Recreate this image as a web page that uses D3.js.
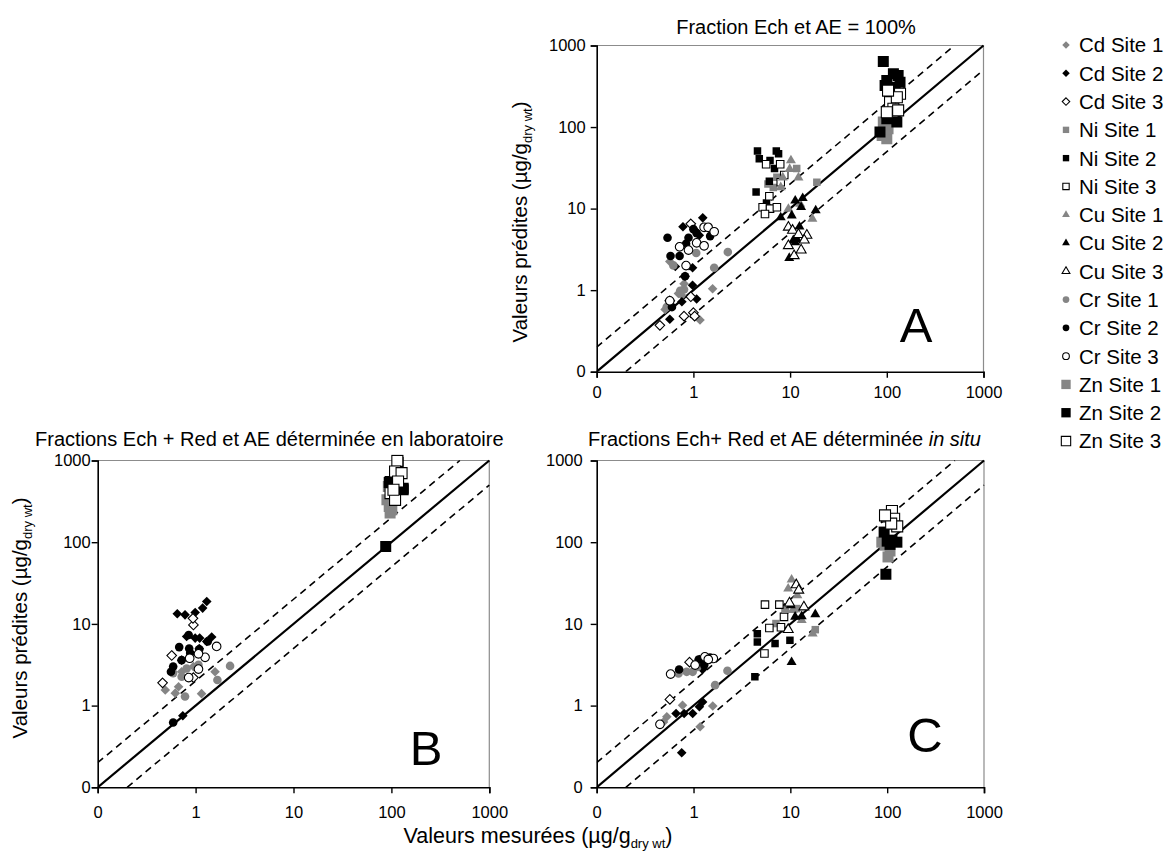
<!DOCTYPE html>
<html>
<head>
<meta charset="utf-8">
<script src="https://cdn.jsdelivr.net/npm/d3@7"></script>
<style>
  body { margin: 0; background: #fff; }
  svg { font-family: "Liberation Sans", Arial, sans-serif; }
</style>
</head>
<body>
<svg id="chart" width="1172" height="855"></svg>
<script>
const seriesNames = ['Cd Site 1', 'Cd Site 2', 'Cd Site 3', 'Ni Site 1', 'Ni Site 2', 'Ni Site 3',
  'Cu Site 1', 'Cu Site 2', 'Cu Site 3', 'Cr Site 1', 'Cr Site 2', 'Cr Site 3',
  'Zn Site 1', 'Zn Site 2', 'Zn Site 3'];
const axisTicks = [0.1, 1, 10, 100, 1000];
const refLineFactors = [1, 2, 0.5];   // 1:1 line and factor-2 limits

// panel A : Fraction Ech et AE = 100%
const panelA = {
  'Cd Site 1': [[1.17,0.43],[1.58,1.04],[0.57,2.25],[0.51,0.58],[0.70,0.91],[0.80,1.2],[0.76,0.86]],
  'Cd Site 2': [[1.25,7.7],[0.78,6.0],[0.65,1.95],[0.98,1.88],[0.82,1.48],[0.98,1.15],[1.08,0.78],[0.57,0.44],[0.76,0.72],[1.04,5.4],[1.15,4.7]],
  'Cd Site 3': [[0.94,6.5],[0.45,0.37],[0.80,0.48],[1.0,0.53],[1.03,0.48],[0.57,0.74],[0.94,0.83]],
  'Ni Site 1': [[18.9,21],[11.7,31],[5.9,20],[7.3,24.2],[6.7,18.2]],
  'Ni Site 2': [[4.6,51],[4.8,41],[6.2,39],[7.2,51],[7.6,47],[6.9,31],[6.1,21.6],[4.45,16],[5.7,11.7],[5.8,10.2]],
  'Ni Site 3': [[5.65,35],[7.9,35],[8.7,25.8],[8.0,21],[6.1,14.2],[5.2,10.4],[6.2,10],[7.3,10.4],[5.5,8.6]],
  'Cu Site 1': [[10.2,39],[12.2,24],[9.9,30.5],[8.4,24],[8.0,18.2],[9.6,9.9],[17,7.5],[12.7,11.4]],
  'Cu Site 2': [[13.5,13.4],[11.3,12.5],[13,10.4],[18.4,9.5],[8.0,7.8],[10.4,8.2],[12.5,6.0],[10.8,4.1],[9.8,2.47],[11.3,3.86],[11.8,4.2]],
  'Cu Site 3': [[9.6,5.9],[10.6,5.4],[12.2,4.8],[14.9,4.7],[14,4.1],[9.6,3.5],[11,2.64],[13,3.1]],
  'Cr Site 1': [[2.27,2.93],[1.64,1.88],[1.07,2.85],[0.62,2.01],[0.80,1.02],[0.73,0.98],[0.53,0.62]],
  'Cr Site 2': [[0.54,4.4],[0.72,3.4],[0.89,4.4],[1.08,5.0],[0.58,2.62],[0.72,2.62],[0.84,3.7],[0.82,1.48],[1.49,4.6],[0.6,0.62],[1.0,5.6]],
  'Cr Site 3': [[1.29,5.9],[1.42,5.9],[1.64,5.2],[1.08,3.8],[1.29,3.5],[0.72,3.4],[0.84,2.0],[0.89,3.1],[0.57,0.74]],
  'Zn Site 1': [[92,115],[96,87],[100,72],[89.5,79],[103,95],[98,105]],
  'Zn Site 2': [[92,635],[117,449],[131,428],[100,372],[112,308],[122,267],[96,323],[127,115],[100,126],[85,87],[137,354]],
  'Zn Site 3': [[108,202],[117,168],[100,152],[131,160],[137,256],[127,232],[103,280]]
};

// panel B : Fractions Ech + Red et AE déterminée en laboratoire
const panelB = {
  'Cd Site 1': [[0.49,1.55],[0.62,1.42],[1.15,1.4],[1.58,2.6],[0.72,2.6],[0.67,1.7],[0.95,3.0]],
  'Cd Site 2': [[0.65,13.3],[0.78,12.9],[0.99,13.8],[1.18,15.6],[1.3,18.8],[0.81,7.0],[0.99,6.7],[1.10,6.7],[1.46,6.9],[1.09,5.0],[0.72,3.6],[0.74,0.75],[1.30,6.1]],
  'Cd Site 3': [[0.95,9.7],[0.57,4.1],[0.46,1.9],[0.95,2.2],[0.94,11.7]],
  'Cr Site 1': [[2.25,3.06],[1.67,2.06],[0.78,1.29],[0.72,2.26],[0.59,2.5],[1.07,3.15],[0.81,2.85]],
  'Cr Site 2': [[0.59,3.0],[0.68,5.2],[0.86,5.0],[0.72,3.6],[0.88,4.4],[0.56,2.6],[0.59,0.62],[1.09,4.9],[1.33,6.1],[0.85,7.3]],
  'Cr Site 3': [[1.64,5.3],[1.25,3.9],[1.07,4.3],[0.87,3.8],[0.85,2.2],[1.07,2.8]],
  'Zn Site 1': [[93,481],[95,273],[101,249],[90,330],[105,380],[97,227]],
  'Zn Site 2': [[116,990],[97,553],[132,459],[112,553],[95,538],[132,438],[117,945],[87.5,88.5]],
  'Zn Site 3': [[115,990],[109,733],[127,701],[117,553],[98,399],[109,330],[105,438]]
};

// panel C : Fractions Ech+ Red et AE déterminée in situ
const panelC = {
  'Cd Site 1': [[0.77,1.01],[1.17,0.55],[1.58,0.99],[0.53,0.73],[0.49,0.63]],
  'Cd Site 2': [[0.755,0.265],[0.66,0.80],[0.80,0.80],[0.98,0.80],[1.15,0.97],[1.24,1.11],[1.24,2.77],[1.15,3.67],[1.29,3.27]],
  'Cd Site 3': [[0.57,1.19],[0.91,3.4]],
  'Ni Site 1': [[7.1,10.1],[8.8,14.7],[11.6,15.4],[18.1,8.5]],
  'Ni Site 2': [[4.56,7.6],[4.56,6.0],[6.95,5.75],[4.3,2.25],[9.9,6.3]],
  'Ni Site 3': [[5.47,17.2],[7.7,17.2],[6.07,8.9],[8.6,12.2],[5.4,4.34],[8.0,9.1]],
  'Cu Site 1': [[10.3,34.8],[9.5,27],[11.8,22.4],[13.1,11.1],[17,7.6],[10.6,14.7],[9.1,14.7]],
  'Cu Site 2': [[10.1,16.9],[11.2,12.2],[13.1,12.4],[18.1,13.1],[10.3,3.4]],
  'Cu Site 3': [[11.5,30],[12.2,25.8],[13.8,16.1],[9.8,18],[9.5,8.5]],
  'Cr Site 1': [[0.70,2.47],[0.85,2.59],[0.98,2.59],[1.10,2.98],[2.24,2.67],[1.67,1.78]],
  'Cr Site 2': [[0.71,2.77],[1.13,3.67],[1.48,3.88],[1.29,3.13]],
  'Cr Site 3': [[0.58,2.43],[0.45,0.59],[1.31,3.95],[1.6,3.77],[1.04,3.13],[1.42,3.67]],
  'Zn Site 1': [[88,100],[107,78],[102,66],[95,92]],
  'Zn Site 2': [[93,133],[100,103],[126,100],[112,106],[97,40.5],[107,94]],
  'Zn Site 3': [[99,207],[112,241],[118,194],[127,156],[110,169],[95,213]]
};

// ---- drawing ----
const svg = d3.select('#chart');
const GREY = '#858585';
const siteFill = { '1': GREY, '2': '#000', '3': '#fff' };

function markerPath(metal, legend) {
  const k = legend ? 0.78 : 1;
  if (metal === 'Cd') { const r = 4.8 * k; return `M0,${-r}L${r},0L0,${r}L${-r},0Z`; }
  if (metal === 'Ni' || metal === 'Zn') {
    const a = (metal === 'Ni' ? 7.5 : 11) * (legend ? 0.85 : 1);
    return `M${-a/2},${-a/2}h${a}v${a}h${-a}Z`;
  }
  if (metal === 'Cu') {
    const a = 10 * k, h = a * 0.866;
    return `M0,${-h*2/3}L${a/2},${h/3}L${-a/2},${h/3}Z`;
  }
  const r = 4.3 * k;
  return `M${r},0A${r},${r} 0 1,1 ${-r},0A${r},${r} 0 1,1 ${r},0Z`;
}

function styleMarker(sel, name) {
  const site = name.slice(-1);
  sel.attr('fill', siteFill[site])
    .attr('stroke', site === '3' ? '#000' : 'none')
    .attr('stroke-width', 1.1);
}

function drawPanel(cfg, data) {
  const { id, left, right, top, bottom, yGap, xOff } = cfg;
  const x = d3.scaleLog().domain([0.1, 1000]).range([left, right]);
  const y = d3.scaleLog().domain([0.1, 1000]).range([bottom, top]);
  const fmt = d => d < 1 ? '0' : d3.format('d')(d);

  svg.append('defs').append('clipPath').attr('id', 'clip-' + id)
    .append('rect').attr('x', left).attr('y', top - 6)
    .attr('width', right - left + 6).attr('height', bottom - top + 6);

  // plot area frame (grey top/right)
  svg.append('path')
    .attr('d', `M${left},${top}H${right}V${bottom}`)
    .attr('fill', 'none').attr('stroke', '#8c8c8c').attr('stroke-width', 1.2);

  const g = svg.append('g').attr('clip-path', `url(#clip-${id})`);

  // reference lines
  refLineFactors.forEach(f => {
    const x0 = Math.max(0.1, 0.1 / f), x1 = Math.min(1000, 1000 / f);
    g.append('line')
      .attr('x1', x(x0)).attr('y1', y(x0 * f))
      .attr('x2', x(x1)).attr('y2', y(x1 * f))
      .attr('stroke', '#000')
      .attr('stroke-width', f === 1 ? 2.2 : 1.6)
      .attr('stroke-dasharray', f === 1 ? null : '7,5');
  });

  // points, in legend order
  seriesNames.forEach(name => {
    const pts = data[name];
    if (!pts) return;
    const metal = name.slice(0, 2);
    g.selectAll(null).data(pts).enter().append('path')
      .attr('d', markerPath(metal, false))
      .attr('transform', d => `translate(${x(d[0])},${y(d[1])})`)
      .call(styleMarker, name);
  });

  // axes
  const xAxis = svg.append('g').attr('transform', `translate(0,${bottom})`)
    .call(d3.axisBottom(x).tickValues(axisTicks).tickFormat(fmt).tickSizeOuter(0).tickSize(6));
  const yAxis = svg.append('g').attr('transform', `translate(${left},0)`)
    .call(d3.axisLeft(y).tickValues(axisTicks).tickFormat(fmt).tickSizeOuter(0).tickSize(6));
  [xAxis, yAxis].forEach(a => {
    a.select('.domain').attr('stroke', '#000').attr('stroke-width', 1.6);
    a.selectAll('.tick line').attr('stroke', '#000').attr('stroke-width', 1.4);
    a.selectAll('.tick text').attr('font-size', 16.5).attr('fill', '#000')
      .attr('font-family', '"Liberation Sans", Arial, sans-serif');
  });
  xAxis.selectAll('.tick text').attr('dy', null).attr('y', xOff);
  yAxis.selectAll('.tick text').attr('x', -yGap);

  // panel letter
  svg.append('text').attr('x', cfg.letterX).attr('y', cfg.letterY)
    .attr('text-anchor', 'middle').attr('font-size', 49).text(cfg.letter);
}

drawPanel({ id: 'A', left: 596.7, right: 983.5, top: 45.5, bottom: 371.7, yGap: 11, xOff: 26,
  letter: 'A', letterX: 916, letterY: 342 }, panelA);
drawPanel({ id: 'B', left: 97.7, right: 489.3, top: 460.5, bottom: 787.3, yGap: 7, xOff: 31,
  letter: 'B', letterX: 426, letterY: 765 }, panelB);
drawPanel({ id: 'C', left: 596.7, right: 984, top: 460.5, bottom: 787.3, yGap: 14, xOff: 31,
  letter: 'C', letterX: 925, letterY: 752 }, panelC);

// titles
svg.append('text').attr('x', 796).attr('y', 34).attr('text-anchor', 'middle')
  .attr('font-size', 20).text('Fraction Ech et AE = 100%');
svg.append('text').attr('x', 35).attr('y', 446).attr('font-size', 20)
  .text('Fractions Ech + Red et AE déterminée en laboratoire');
const tC = svg.append('text').attr('x', 588).attr('y', 446).attr('font-size', 20);
tC.append('tspan').text('Fractions Ech+ Red et AE déterminée ');
tC.append('tspan').attr('font-style', 'italic').text('in situ');

// axis titles
function unitLabel(sel, main) {
  sel.append('tspan').text(main + ' (µg/g');
  sel.append('tspan').attr('font-size', 13).attr('dy', 5).text('dry wt');
  sel.append('tspan').attr('dy', -5).text(')');
}
svg.append('text').attr('transform', 'translate(527,222) rotate(-90)')
  .attr('text-anchor', 'middle').attr('font-size', 20.5).call(unitLabel, 'Valeurs prédites');
svg.append('text').attr('transform', 'translate(27,618) rotate(-90)')
  .attr('text-anchor', 'middle').attr('font-size', 20.5).call(unitLabel, 'Valeurs prédites');
svg.append('text').attr('x', 538).attr('y', 843)
  .attr('text-anchor', 'middle').attr('font-size', 21.5).call(unitLabel, 'Valeurs mesurées');

// legend
const legend = svg.append('g');
const rowY = d3.scalePoint().domain(seriesNames).range([45, 441]);
seriesNames.forEach(name => {
  const yy = rowY(name);
  legend.append('path').attr('d', markerPath(name.slice(0, 2), true))
    .attr('transform', `translate(1066,${yy})`).call(styleMarker, name);
  legend.append('text').attr('x', 1079).attr('y', yy).attr('dy', '0.36em')
    .attr('font-size', 20.5).text(name);
});
</script>
</body>
</html>
